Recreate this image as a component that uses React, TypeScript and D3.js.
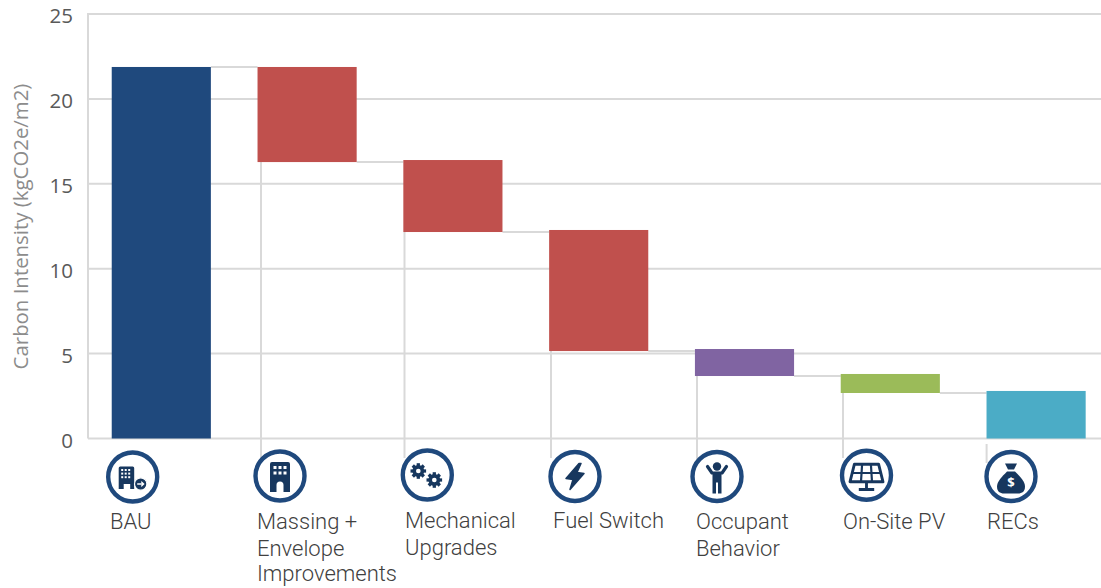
import React from "react";
import * as d3 from "d3";

const categories = ["BAU", "Massing + Envelope Improvements", "Mechanical Upgrades", "Fuel Switch", "Occupant Behavior", "On-Site PV", "RECs"];
const barTops = [21.88, 21.88, 16.4, 12.28, 5.27, 3.8, 2.8];
const barBottoms = [0, 16.28, 12.16, 5.15, 3.68, 2.68, 0];
const barColors = ["#1f497d", "#c0504d", "#c0504d", "#c0504d", "#8064a2", "#9bbb59", "#4bacc6"];
const yTicks = [0, 5, 10, 15, 20, 25];
const labelLines = [["BAU"], ["Massing +", "Envelope", "Improvements"], ["Mechanical", "Upgrades"], ["Fuel Switch"], ["Occupant", "Behavior"], ["On-Site PV"], ["RECs"]];

const W = 1101, H = 588;
const y = d3.scaleLinear().domain([0, 25]).range([438.5, 14]);
const x = d3.scaleBand<string>().domain(categories).range([88.4, 1109]).paddingInner(0.32).paddingOuter(0.16);

const iconCenters: [number, number][] = [[132.7, 477], [280, 476], [427.3, 475], [575, 476.5], [717, 476.5], [866.5, 475.3], [1011, 476.5]];
const labelX = [110, 257, 405, 553, 696, 843, 987];
const labelY = [529, 529, 528, 528, 529, 529, 529];
const lineOffsets = [0, 27, 52];
const stemX = [0, 261, 404.5, 551, 697, 843, 986.6];
const stemEnd = [0, 462, 458, 458, 463, 458, 463];

const GRID = "#d9d9d9";
const DARK = "#17375e";
const sans = "'Open Sans', sans-serif";
const roboto = "Roboto, sans-serif";

function gear(cx: number, cy: number, r: number) {
  const teeth = d3.range(8).map((i) => {
    const a = (i * Math.PI) / 4;
    return <line key={i} x1={cx} y1={cy} x2={cx + Math.cos(a) * r} y2={cy + Math.sin(a) * r} stroke={DARK} strokeWidth={r * 0.42} />;
  });
  return (
    <g>
      {teeth}
      <circle cx={cx} cy={cy} r={r * 0.76} fill={DARK} />
      <circle cx={cx} cy={cy} r={r * 0.3} fill="#fff" />
    </g>
  );
}

function windows(x0: number, y0: number, cols: number, rows: number, dx: number, dy: number, s: number) {
  const out = [];
  for (let r = 0; r < rows; r++)
    for (let c = 0; c < cols; c++)
      out.push(<rect key={`${r}-${c}`} x={x0 + c * dx} y={y0 + r * dy} width={s} height={s} fill="#fff" />);
  return out;
}

const icons = [
  <g>
    <path d="M-14,-9 a1.5,1.5 0 0 1 1.5,-1.5 H0 a1.5,1.5 0 0 1 1.5,1.5 V12 H-2.5 V7 H-9 V12 H-14 Z" fill={DARK} />
    {windows(-11.5, -8, 3, 3, 3.5, 3.6, 2)}
    <circle cx={8} cy={7} r={6.2} fill={DARK} stroke="#fff" strokeWidth={1.2} />
    <path d="M4.5,7 H11 M8.5,4.6 L11,7 L8.5,9.4" fill="none" stroke="#fff" strokeWidth={1.3} />
  </g>,
  <g>
    <path d="M-10,-12 a2,2 0 0 1 2,-2 H8 a2,2 0 0 1 2,2 V16 H3.5 V9 a3.5,3.5 0 0 0 -7,0 V16 H-10 Z" fill={DARK} />
    {windows(-6.5, -10, 3, 2, 5, 5.5, 3)}
  </g>,
  <g>
    {gear(-9, -4, 7.8)}
    {gear(7, 5, 7.8)}
  </g>,
  <path d="M4,-13 L-9,2 L-2,3 L-5,13 L9,-3 L2,-4 L6,-13 Z" fill={DARK} stroke={DARK} strokeWidth={1.5} strokeLinejoin="round" />,
  <g>
    <circle cx={0} cy={-10} r={4.2} fill={DARK} />
    <path d="M-9.5,-10 L-5,-3.5 H5 L9.5,-10" fill="none" stroke={DARK} strokeWidth={3.2} strokeLinecap="round" strokeLinejoin="round" />
    <path d="M-4.5,-4 H4.5 V17 H1 V6 H-1 V17 H-4.5 Z" fill={DARK} />
  </g>,
  <g fill="none" stroke={DARK} strokeWidth={2.6} transform="translate(0,1) scale(1.1)">
    <path d="M-11,-11 H11 L15,5 H-15 Z" strokeLinejoin="round" />
    <path d="M-13,-3 H13 M-4,-11 L-5,5 M4,-11 L5,5" strokeWidth={2} />
    <path d="M0,5 V11 M-7,12 H7" strokeWidth={2.6} />
  </g>,
  <g transform="translate(0,2)">
    <path d="M-6,-15 H6 L3,-9 H-3 Z" fill={DARK} />
    <path d="M-4,-7 H4 C9,-2 14,3 14,8 C14,13 11,15 7,15 H-7 C-11,15 -14,13 -14,8 C-14,3 -9,-2 -4,-7 Z" fill={DARK} />
    <text x={0} y={8.5} textAnchor="middle" fontFamily={sans} fontWeight={700} fontSize={13} fill="#fff">$</text>
  </g>,
];

export default function App() {
  return (
    <svg width={W} height={H} viewBox={`0 0 ${W} ${H}`} style={{ position: "absolute", left: 0, top: 0, background: "#fff" }}>
      {yTicks.map((t) => (
        <line key={t} x1={88} x2={W} y1={y(t)} y2={y(t)} stroke={GRID} strokeWidth={2} />
      ))}
      <line x1={88} x2={88} y1={y(25) - 1} y2={y(0)} stroke={GRID} strokeWidth={2} />
      {yTicks.map((t) => (
        <text key={t} x={73} y={y(t) + 9} textAnchor="end" fontFamily={sans} fontSize={20.5} fill="#595959">{t}</text>
      ))}
      <text transform="translate(28,226.5) rotate(-90)" textAnchor="middle" fontFamily={sans} fontSize={20.4} fill="#8c8c8c">Carbon Intensity (kgCO2e/m2)</text>

      {categories.slice(0, -1).map((c, i) => (
        <line key={c} x1={(x(c) ?? 0) + x.bandwidth()} x2={x(categories[i + 1]) ?? 0}
          y1={y(barBottoms[i] === 0 ? barTops[i] : barBottoms[i])} y2={y(barBottoms[i] === 0 ? barTops[i] : barBottoms[i])}
          stroke={GRID} strokeWidth={2} />
      ))}
      {categories.map((c, i) => i > 0 && (
        <line key={c} x1={stemX[i]} x2={stemX[i]}
          y1={barBottoms[i] === 0 ? 444 : y(barBottoms[i])} y2={stemEnd[i]}
          stroke={GRID} strokeWidth={2} />
      ))}
      {categories.map((c, i) => (
        <rect key={c} x={x(c)} y={y(barTops[i])} width={x.bandwidth()} height={y(barBottoms[i]) - y(barTops[i])} fill={barColors[i]} />
      ))}

      {iconCenters.map(([cx, cy], i) => (
        <g key={i} transform={`translate(${cx},${cy})`}>
          <circle r={24.5} fill="#fff" stroke="#1f497d" strokeWidth={4.4} />
          {icons[i]}
        </g>
      ))}

      {labelLines.map((lines, i) =>
        lines.map((l, j) => (
          <text key={`${i}-${j}`} x={labelX[i]} y={labelY[i] + lineOffsets[j]} fontFamily={roboto} fontWeight={300} fontSize={22} fill="#404040">{l}</text>
        ))
      )}
    </svg>
  );
}
